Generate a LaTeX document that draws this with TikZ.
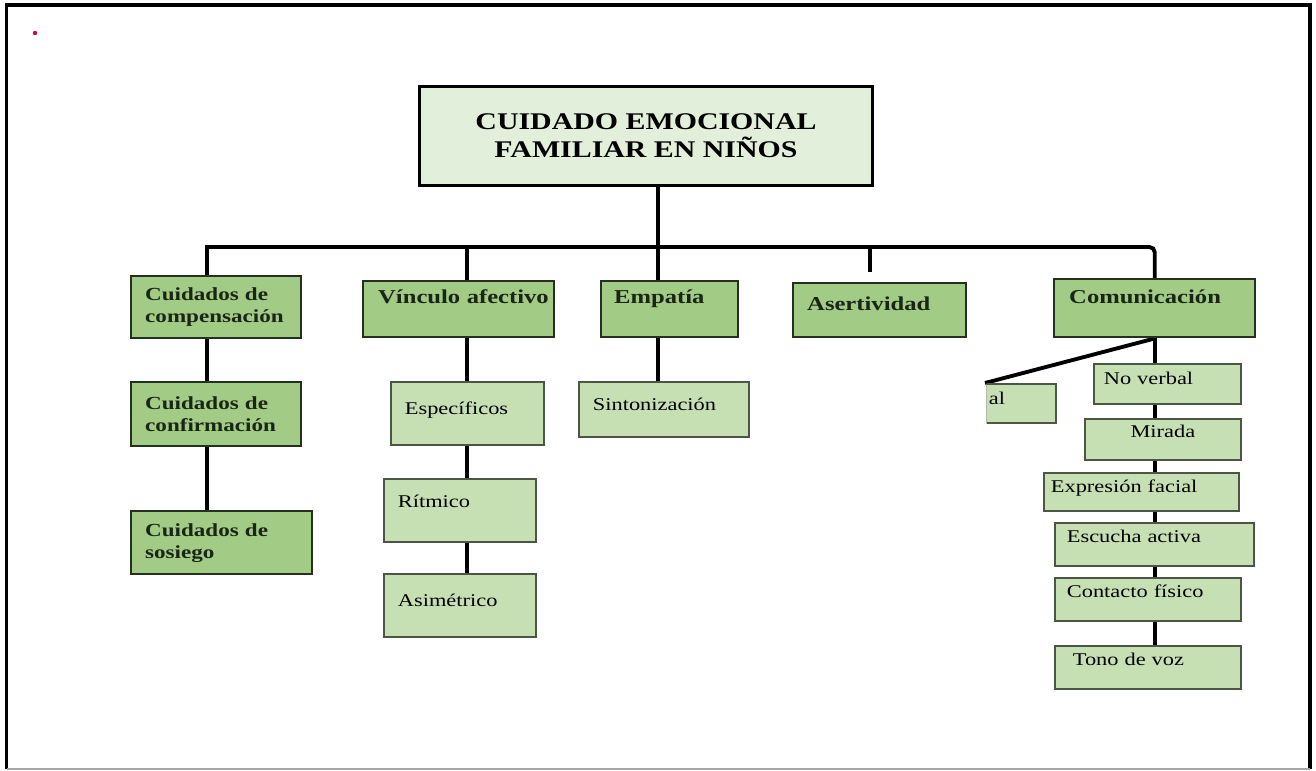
\documentclass[tikz,border=0pt]{standalone}
\usepackage{fontspec}
\setmainfont{Liberation Serif}[FakeStretch=1.25]
\usepackage{tikz}
\usetikzlibrary{backgrounds}
\definecolor{verdeRaiz}{HTML}{E2EFDA}
\definecolor{verdeUno}{HTML}{A2CB86}
\definecolor{verdeDos}{HTML}{C6E0B4}
\definecolor{bordeUno}{HTML}{263022}
\definecolor{bordeDos}{HTML}{4B5646}
\definecolor{letraUno}{HTML}{1A2615}
\definecolor{punto}{HTML}{C0143C}

\begin{document}
\begin{tikzpicture}[
  caja/.style={draw, anchor=north west, inner xsep=0.28cm, inner ysep=0pt, align=left},
  tam/.style n args={3}{minimum width=#1cm, minimum height=#2cm, text width=#3cm},
  sube/.style={text height=7.2pt, text depth=#1},
  titulo/.style={draw=black, fill=verdeRaiz, line width=1.7pt, anchor=north west, align=center,
    font=\fontsize{13.6}{15.9}\selectfont\bfseries},
  uno/.style={caja, fill=verdeUno, draw=bordeUno, text=letraUno, line width=1.4pt,
    font=\fontsize{10.5}{12.5}\selectfont\bfseries},
  grande/.style={font=\fontsize{11.2}{13}\selectfont\bfseries},
  dos/.style={caja, fill=verdeDos, draw=bordeDos, line width=1pt, font=\fontsize{10.2}{12}\selectfont, sube=6pt},
  conn/.style={line width=2.2pt, black}
]
\useasboundingbox (0,0) rectangle (26.32,-15.42);

% marco
\draw[line width=1.8pt] (0.13,-15.38) -- (0.13,-0.1) -- (26.2,-0.1) -- (26.2,-15.38);
\draw[gray!70, line width=1pt] (0.13,-15.38) -- (26.2,-15.38);
\fill[punto] (0.70,-0.66) circle (0.045cm);

\node[titulo, minimum width=9.06cm, minimum height=1.98cm] (raiz) at (8.36,-1.70) {CUIDADO EMOCIONAL\\FAMILIAR EN NIÑOS};

\node[uno, tam={3.40}{1.24}{2.84}] (comp) at (2.60,-5.50) {Cuidados de\\compensación};
\node[uno, tam={3.40}{1.28}{2.84}] (conf) at (2.60,-7.62) {Cuidados de\\confirmación};
\node[uno, tam={3.62}{1.26}{3.06}] (sos)  at (2.60,-10.20) {Cuidados de\\sosiego};
\node[uno, grande, tam={3.82}{1.12}{3.22}, inner xsep=0.30cm, sube=14pt] (vin) at (7.24,-5.60) {\mbox{Vínculo afectivo}};
\node[uno, grande, tam={2.74}{1.12}{2.22}, inner xsep=0.26cm, sube=14pt] (emp) at (12.00,-5.60) {Empatía};
\node[uno, grande, tam={3.46}{1.08}{2.90}, sube=7pt] (aser) at (15.84,-5.64) {Asertividad};
\node[uno, grande, tam={4.02}{1.16}{3.42}, inner xsep=0.30cm, sube=13pt] (com) at (21.06,-5.56) {Comunicación};

\node[dos, tam={3.06}{1.26}{2.50}] (esp)  at (7.80,-7.62)  {Específicos};
\node[dos, tam={3.04}{1.26}{2.48}, sube=10pt] (rit) at (7.66,-9.56) {Rítmico};
\node[dos, tam={3.04}{1.26}{2.48}] (asim) at (7.66,-11.46) {Asimétrico};
\node[dos, tam={3.40}{1.10}{2.84}] (sint) at (11.56,-7.62) {Sintonización};

\node[dos, tam={2.94}{0.80}{2.54}, inner xsep=0.20cm] (nover) at (21.86,-7.26) {No~verbal};
\node[dos, tam={3.12}{0.82}{2.56}, align=center, sube=9pt] (mir) at (21.68,-8.36) {Mirada};
\node[dos, tam={3.90}{0.76}{3.62}, inner xsep=0.14cm] (expr) at (20.86,-9.44) {Expresión~facial};
\node[dos, tam={3.98}{0.86}{3.50}, inner xsep=0.24cm, sube=9pt] (esc) at (21.08,-10.44) {Escucha~activa};
\node[dos, tam={3.72}{0.86}{3.24}, inner xsep=0.24cm, sube=9pt] (cont) at (21.08,-11.54) {Contacto~físico};
\node[dos, tam={3.72}{0.86}{3.00}, inner xsep=0.36cm, sube=9pt] (tono) at (21.08,-12.90) {Tono~de~voz};

% caja cortada a la izquierda
\begin{scope}
  \clip (19.73,-7.5) rectangle (21.3,-8.6);
  \node[dos, tam={1.40}{0.78}{1.28}, inner xsep=0.06cm] (verb) at (19.70,-7.66) {al};
\end{scope}

\begin{scope}[on background layer]
  \coordinate (bus) at (0,-4.94);
  \coordinate (col1) at (4.14,0);
  \draw[conn] ([xshift=0.24cm]raiz.south) -- ([xshift=0.24cm]raiz.south |- sint.north);
  \draw[conn] (sos.north -| col1) |- ([xshift=-0.3cm]bus -| com.north)
    [rounded corners=3pt] -- (bus -| com.north) -- (com.north);
  \draw[conn] (bus -| esp.north) -- (asim.north -| esp.north);
  \draw[conn] ([xshift=-0.2cm]bus -| aser.north) -- ([xshift=-0.2cm,yshift=0.2cm]aser.north);
  \draw[conn] (com.south) -- (tono.north -| com.south);
  \draw[conn] (com.south) -- (verb.north west);
\end{scope}

\end{tikzpicture}
\end{document}
